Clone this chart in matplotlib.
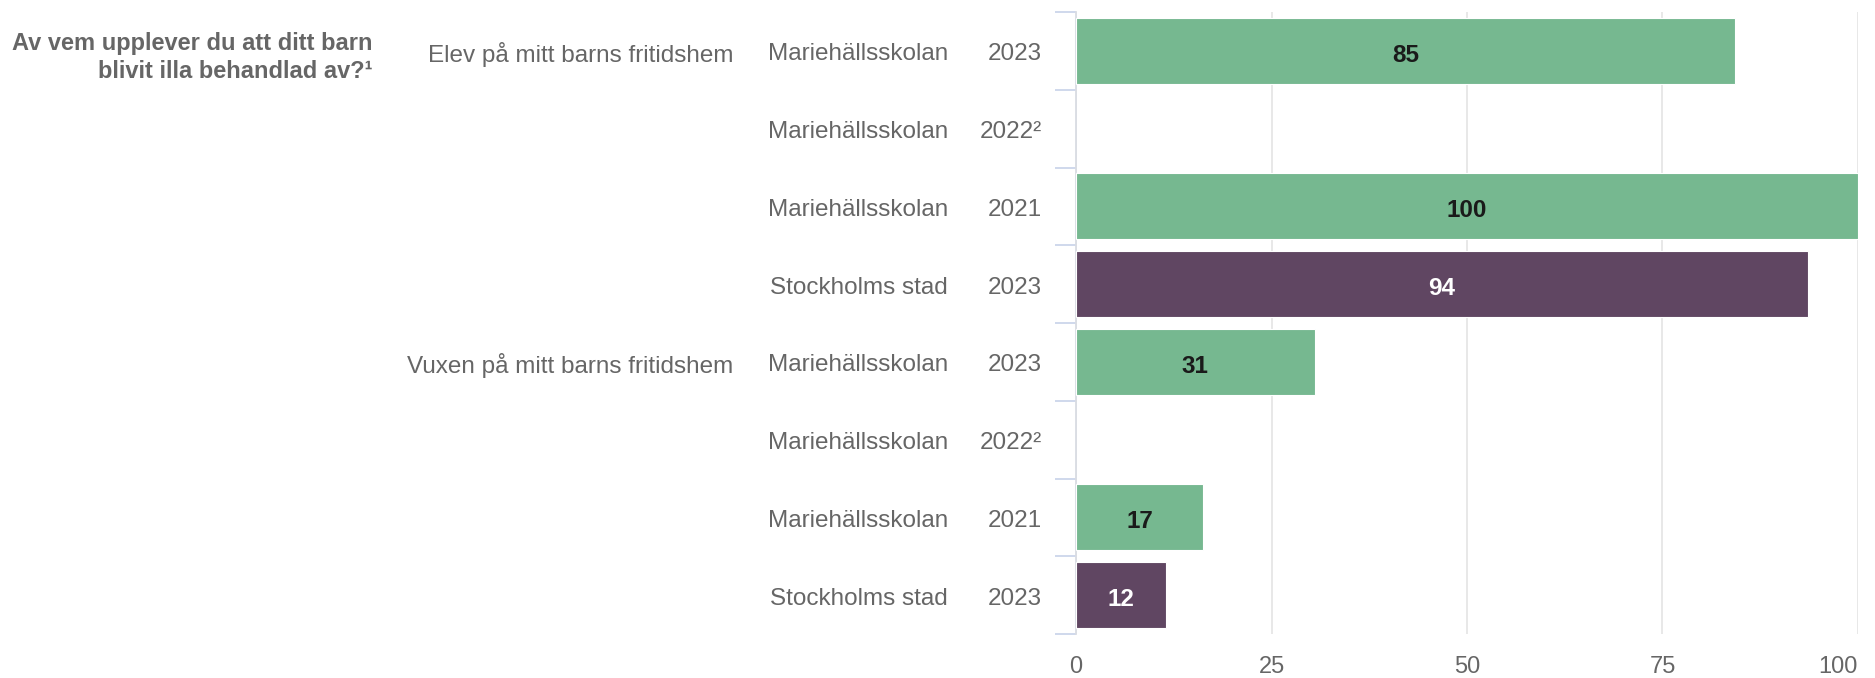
import matplotlib
matplotlib.use("Agg")
import matplotlib.pyplot as plt
import matplotlib.transforms as mtransforms

plt.rcParams['font.family'] = ['Liberation Sans', 'DejaVu Sans']

title_lines = ["Av vem upplever du att ditt barn", "blivit illa behandlad av?¹"]
groups = ["Elev på mitt barns fritidshem", "Vuxen på mitt barns fritidshem"]
units = ["Mariehällsskolan", "Mariehällsskolan", "Mariehällsskolan", "Stockholms stad",
         "Mariehällsskolan", "Mariehällsskolan", "Mariehällsskolan", "Stockholms stad"]
years = ["2023", "2022²", "2021", "2023", "2023", "2022²", "2021", "2023"]
values = [84.3, None, 100, 93.6, 30.5, None, 16.3, 11.5]
value_labels = ["85", "", "100", "94", "31", "", "17", "12"]
xticks = [0, 25, 50, 75, 100]

GREEN = "#76b890"
PURPLE = "#604662"
TEXT = "#666666"

W, H = 1875, 678
fig = plt.figure(figsize=(W / 100, H / 100), dpi=100)
ax = fig.add_axes([1076 / W, 1 - 634 / H, (1858 - 1076) / W, (634 - 12) / H])

down_lab = mtransforms.ScaledTranslation(0, -4.5 / 100, fig.dpi_scale_trans)
down_cat = mtransforms.ScaledTranslation(0, -3.5 / 100, fig.dpi_scale_trans)

n = len(values)
ys = list(range(n))
for i, v in enumerate(values):
    if v is None:
        continue
    col = PURPLE if units[i] == "Stockholms stad" else GREEN
    ax.barh(i, v, height=0.85, color=col, edgecolor="white", linewidth=0.8, zorder=3)
    tc = "white" if col == PURPLE else "#1a1a1a"
    ax.text(v / 2, i, value_labels[i], ha="center", va="center", fontsize=17.5,
            fontweight="bold", color=tc, zorder=4,
            transform=ax.transData + down_lab)

ax.set_xlim(0, 100)
ax.set_ylim(n - 0.5, -0.5)
ax.set_xticks(xticks)
ax.set_xticklabels([str(t) for t in xticks])
ax.tick_params(axis="x", length=0, pad=16, labelsize=17, labelcolor=TEXT)
labs = ax.get_xticklabels()
labs[-1].set_ha("right")
ax.grid(axis="x", color="#e6e6e6", linewidth=1.3, zorder=0)

ax.set_yticks([])
ax.set_yticks([i - 0.5 for i in range(n + 1)], minor=True)
ax.tick_params(axis="y", which="minor", length=15, width=1.3, color="#ccd6eb",
               direction="out")
for s in ["top", "right", "bottom"]:
    ax.spines[s].set_visible(False)
ax.spines["left"].set_color("#d9dce3")
ax.spines["left"].set_linewidth(1.3)

trans = mtransforms.blended_transform_factory(fig.transFigure, ax.transData) + down_cat
for i in ys:
    ax.text(948 / W, i, units[i], transform=trans, ha="right", va="center",
            fontsize=17.5, color=TEXT)
    ax.text(1042 / W, i, years[i], transform=trans, ha="right", va="center",
            fontsize=17.5, color=TEXT)
for gi, g in enumerate(groups):
    ax.text(733 / W, gi * 4, g, transform=trans, ha="right", va="center",
            fontsize=17.5, color=TEXT)

fig.text(372 / W, 1 - 43.5 / H, title_lines[0], ha="right", va="center",
         fontsize=17, fontweight="bold", color=TEXT)
fig.text(372 / W, 1 - 71.5 / H, title_lines[1], ha="right", va="center",
         fontsize=17, fontweight="bold", color=TEXT)

fig.savefig("out.png", dpi=100)
